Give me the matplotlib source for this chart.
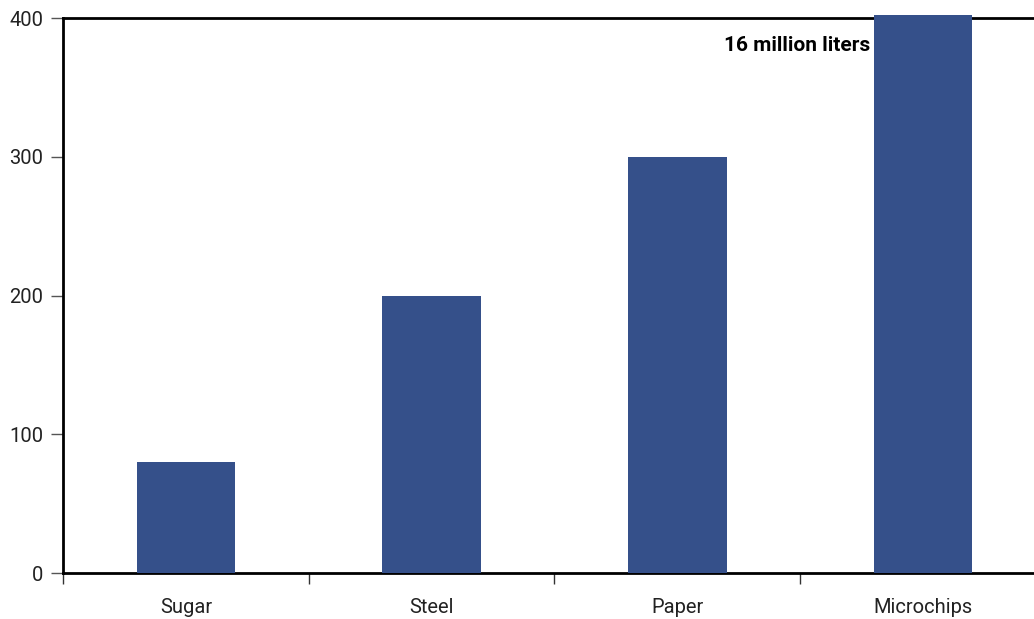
import matplotlib.pyplot as plt

categories = ["Sugar", "Steel", "Paper", "Microchips"]
values = [80, 200, 300, 402]
annotation = "16 million liters"
annotation_y = 380
yticks = [0, 100, 200, 300, 400]

plt.rcParams["font.family"] = ["Roboto", "DejaVu Sans"]
plt.rcParams["font.stretch"] = "condensed"

fig = plt.figure(figsize=(10.34, 6.19), dpi=100)
ax = fig.add_axes([0.0609, 0.0743, 0.9507, 0.8966])

x = range(len(categories))
ax.bar(x, values, width=0.4, color="#35508A", clip_on=False, zorder=3)

ax.set_xlim(-0.5, len(categories) - 0.5)
ax.set_ylim(0, 400)

# category labels centred, tick marks between categories
ax.set_xticks([i - 0.5 for i in range(len(categories))])
ax.set_xticklabels([])
ax.set_xticks(list(x), minor=True)
ax.set_xticklabels(categories, minor=True, fontsize=14.5, color="#222222")
ax.tick_params(axis="x", which="minor", length=0, pad=18)
ax.tick_params(axis="x", which="major", length=8, width=1, direction="out",
               color="#333333")

ax.set_yticks(yticks)
ax.set_yticklabels([str(v) for v in yticks], fontsize=14.5, color="#222222")
ax.tick_params(axis="y", length=9, width=1, direction="out", pad=5,
               color="#555555")

for side in ("left", "bottom", "top"):
    ax.spines[side].set_linewidth(2)
    ax.spines[side].set_color("black")
ax.spines["right"].set_visible(False)

ax.text(3 - 0.2 - 0.015, annotation_y, annotation, ha="right", va="center",
        fontsize=15, fontweight="bold", zorder=4)

fig.savefig("out.png", dpi=100)
